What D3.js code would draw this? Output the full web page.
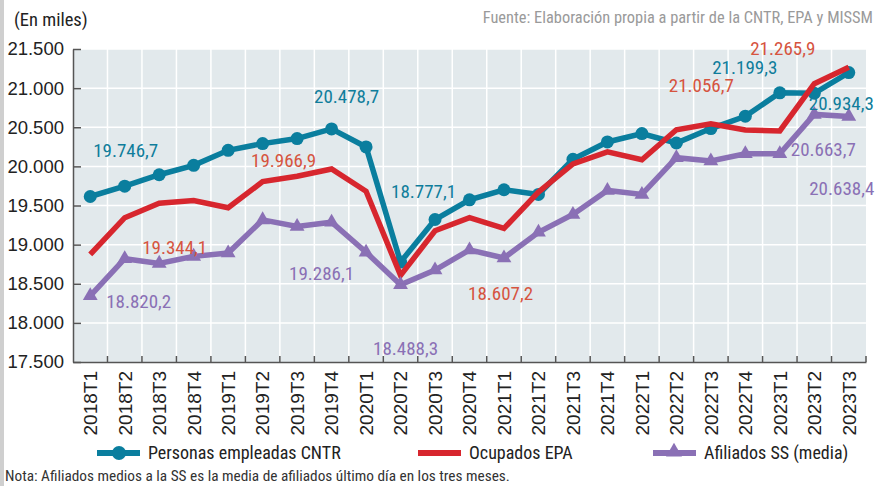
<!DOCTYPE html>
<html><head><meta charset="utf-8">
<script src="https://cdn.jsdelivr.net/npm/d3@7"></script>
<style>
html,body{margin:0;padding:0;background:#fff;}
svg{display:block;}
text{font-family:"Liberation Sans Narrow","Arial Narrow","Roboto Condensed",sans-serif;}
</style></head>
<body>
<svg id="chart" width="876" height="486"></svg>
<script>
const categories = ["2018T1","2018T2","2018T3","2018T4","2019T1","2019T2","2019T3","2019T4","2020T1","2020T2","2020T3","2020T4","2021T1","2021T2","2021T3","2021T4","2022T1","2022T2","2022T3","2022T4","2023T1","2023T2","2023T3"];
const cntrValues = [19615,19746.7,19893,20013,20205,20291,20355,20478.7,20248,18777.1,19321,19573,19701,19641,20090,20312,20419,20299,20483,20641,20940,20934.3,21199.3];
const epaValues = [18874.2,19344.1,19528.0,19564.6,19471.1,19804.9,19874.3,19966.9,19681.3,18607.2,19176.9,19344.3,19206.8,19671.7,20031.0,20184.9,20084.7,20468.0,20545.7,20463.9,20452.8,21056.7,21265.9];
const afilValues = [18346,18820.2,18760,18850,18893,19316,19231,19286.1,18902,18488.3,18675,18932,18829,19158,19385,19692,19641,20111,20068,20162,20162,20663.7,20638.4];
const yTicks = [17500,18000,18500,19000,19500,20000,20500,21000,21500];
const seriesNames = ["Personas empleadas CNTR","Ocupados EPA","Afiliados SS (media)"];
const labelledPoints = [
  {s:0,i:1},{s:0,i:7},{s:0,i:9},{s:0,i:22},{s:0,i:21},
  {s:1,i:7},{s:1,i:1},{s:1,i:9},{s:1,i:21},{s:1,i:22},
  {s:2,i:1},{s:2,i:7},{s:2,i:9},{s:2,i:21},{s:2,i:22}
];
const unitText = "(En miles)";
const sourceText = "Fuente: Elaboración propia a partir de la CNTR, EPA y MISSM";
const noteText = "Nota: Afiliados medios a la SS es la media de afiliados último día en los tres meses.";

// ---------- layout & styles ----------
const L = 73, R = 866, T = 49, B = 362;
const lineColors = ["#0a7e9e","#d7262e","#8a70b5"];
const labelColors = ["#0f7d9b","#d6543f","#8a70b5"];
const labelOffsets = [
  [1,-36],[15,-33],[23,-71],[-104,-5],[27,10],
  [-48,-9],[50,29],[100,18],[-113,1],[-66,-19],
  [14,42],[-10,51],[5,63],[9,35],[-7,72]
];
const loc = d3.formatLocale({decimal:",",thousands:".",grouping:[3],currency:["","€"]});
const fmtTick = loc.format(",.0f");
const fmtVal = loc.format(",.1f");

const svg = d3.select("#chart");
const x = d3.scaleBand().domain(categories).range([L,R]).padding(0);
const y = d3.scaleLinear().domain([17500,21500]).range([B,T]);
const cx = c => x(c) + x.bandwidth()/2;

// left grey border
svg.append("rect").attr("x",0).attr("y",0).attr("width",4).attr("height",486).attr("fill","#cfcfcf");

// background
svg.append("rect").attr("x",L).attr("y",T).attr("width",R-L).attr("height",B-T).attr("fill","#e2e9ec");

// grid
const g = svg.append("g");
g.selectAll("line.h").data(yTicks.slice(1)).join("line")
  .attr("x1",L).attr("x2",R).attr("y1",d=>y(d)).attr("y2",d=>y(d))
  .attr("stroke","#fff").attr("stroke-width",1.5);
g.selectAll("line.v").data(categories.slice(1)).join("line")
  .attr("x1",d=>x(d)).attr("x2",d=>x(d)).attr("y1",T).attr("y2",B)
  .attr("stroke","#fff").attr("stroke-width",1.5);

// axes
const yAxis = d3.axisLeft(y).tickValues(yTicks).tickFormat(fmtTick).tickSizeInner(-8).tickSizeOuter(0).tickPadding(9);
const ya = svg.append("g").attr("transform",`translate(${L},0)`).call(yAxis);
ya.select(".domain").attr("stroke","#555").attr("stroke-width",1.5);
ya.selectAll(".tick line").attr("stroke","#555").attr("stroke-width",1.5);
ya.selectAll(".tick text").attr("font-size",18.5).attr("fill","#222")
  .style("font-family",'"Liberation Sans Narrow","Arial Narrow",sans-serif');

const xAxis = d3.axisBottom(x).tickSize(0).tickSizeOuter(0);
const xa = svg.append("g").attr("transform",`translate(0,${B})`).call(xAxis);
xa.select(".domain").attr("stroke","#555").attr("stroke-width",1.5);
xa.selectAll(".tick text").attr("font-size",19).attr("fill","#222")
  .attr("transform","rotate(-90)").attr("text-anchor","end")
  .attr("x",-9).attr("y",0).attr("dy","0.36em")
  .style("font-family",'"Liberation Sans Narrow","Arial Narrow",sans-serif');
// inner tick marks on band boundaries
xa.selectAll("line.bt").data(categories.concat(["__end"])).join("line")
  .attr("x1",(d,i)=> i<categories.length ? x(d) : R)
  .attr("x2",(d,i)=> i<categories.length ? x(d) : R)
  .attr("y1",0).attr("y2",-6).attr("stroke","#555").attr("stroke-width",1.5)
  .filter((d,i)=>i===0).remove();

// lines
const allSeries = [cntrValues, epaValues, afilValues];
const line = d3.line().x((d,i)=>cx(categories[i])).y(d=>y(d));
const sg = svg.append("g");
allSeries.forEach((vals,s)=>{
  sg.append("path").datum(vals).attr("d",line).attr("fill","none")
    .attr("stroke",lineColors[s]).attr("stroke-width",5.5).attr("stroke-linejoin","miter");
  if(s===0){
    sg.selectAll("circle.m0").data(vals).join("circle")
      .attr("cx",(d,i)=>cx(categories[i])).attr("cy",d=>y(d)).attr("r",6.5).attr("fill",lineColors[s]);
  }
  if(s===2){
    sg.selectAll("path.m2").data(vals).join("path")
      .attr("d",d3.symbol(d3.symbolTriangle,95))
      .attr("transform",(d,i)=>`translate(${cx(categories[i])},${y(d)})`).attr("fill",lineColors[s]);
  }
});

// value labels
svg.append("g").selectAll("text").data(labelledPoints).join("text")
  .attr("x",(d,k)=>cx(categories[d.i])+labelOffsets[k][0])
  .attr("y",(d,k)=>y(allSeries[d.s][d.i])+labelOffsets[k][1])
  .attr("dy","0.36em").attr("text-anchor","middle")
  .attr("font-size",19).attr("fill",d=>labelColors[d.s])
  .text(d=>fmtVal(allSeries[d.s][d.i]));

// header texts
svg.append("text").attr("x",14).attr("y",26).attr("font-size",18.5).attr("fill","#222").text(unitText);
svg.append("text").attr("x",873).attr("y",23).attr("text-anchor","end").attr("font-size",16.4).attr("fill","#9a9a9a").text(sourceText);

// legend
const legX = [97,418,653];
const lg = svg.append("g");
seriesNames.forEach((n,s)=>{
  const x0 = legX[s];
  lg.append("line").attr("x1",x0).attr("x2",x0+43).attr("y1",453).attr("y2",453)
    .attr("stroke",lineColors[s]).attr("stroke-width",6);
  if(s===0) lg.append("circle").attr("cx",x0+22).attr("cy",453).attr("r",7).attr("fill",lineColors[s]);
  if(s===2) lg.append("path").attr("d",d3.symbol(d3.symbolTriangle,110)).attr("transform",`translate(${x0+21},452)`).attr("fill",lineColors[s]);
  lg.append("text").attr("x",x0+51).attr("y",453).attr("dy","0.36em").attr("font-size",18).attr("fill","#222").text(n);
});

// note
svg.append("text").attr("x",5).attr("y",481).attr("font-size",15.3).attr("fill","#333").text(noteText);
</script>
</body></html>
